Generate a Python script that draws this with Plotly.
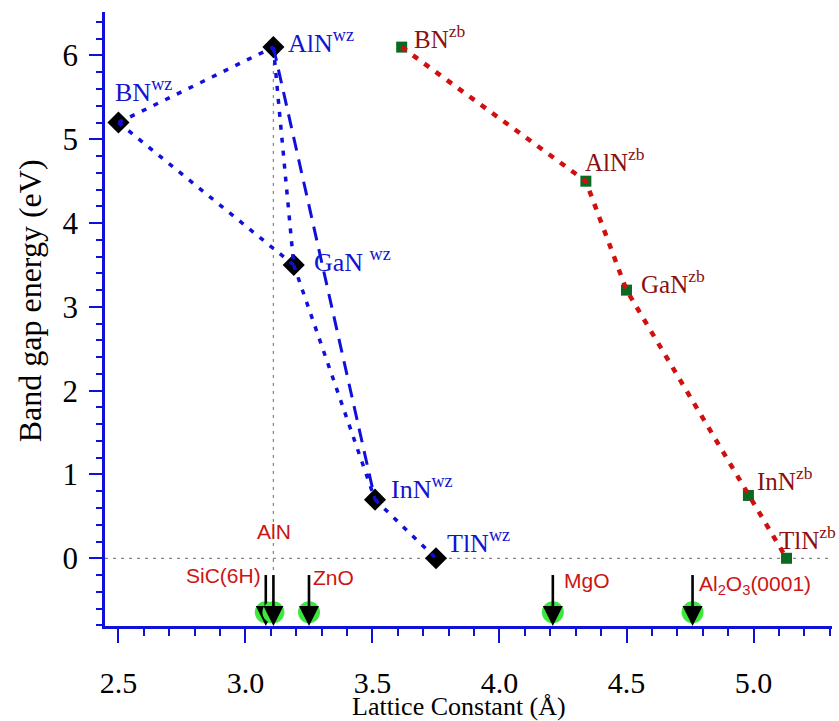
import plotly.graph_objects as go

# Wurtzite nitrides: lattice constant a (Å) and band gap (eV)
wz_names = ["BN", "AlN", "GaN", "InN", "TlN"]
wz_a = [2.50, 3.11, 3.19, 3.51, 3.75]
wz_gap = [5.2, 6.1, 3.5, 0.7, 0.0]

# Zinc-blende nitrides
zb_names = ["BN", "AlN", "GaN", "InN", "TlN"]
zb_a = [3.615, 4.34, 4.50, 4.98, 5.13]
zb_gap = [6.1, 4.5, 3.2, 0.75, 0.0]

# Common substrates and their in-plane lattice constants (Å)
sub_names = ["SiC(6H)", "AlN", "ZnO", "MgO", "Al<sub>2</sub>O<sub>3</sub>(0001)"]
sub_a = [3.08, 3.11, 3.25, 4.21, 4.76]

# Wurtzite tie lines between compounds (index pairs)
wz_dotted_pairs = [(0, 1), (0, 2), (1, 2), (2, 3), (3, 4)]
wz_dashed_pairs = [(1, 3)]

X_RANGE = [2.447, 5.309]
Y_RANGE = [-0.808, 6.519]

BLUE = "#1010dc"
WZ_TEXT = "#1414d0"
ZB_TEXT = "#8a1010"
SUB_TEXT = "#cc1414"
SERIF = "Liberation Serif"
SANS = "Liberation Sans"

# label offsets in pixels (xshift, yshift)
wz_label_shift = [(-5, 32), (13, 6), (18, 4), (14, 12), (9, 17)]
zb_label_shift = [(10, 10), (-3, 21), (12, 8), (7, 16), (-10, 20)]

SHAFT_TOP = -0.2
CIRCLE_Y = -0.645

fig = go.Figure()

# reference lines: Eg = 0 and the AlN lattice constant
fig.add_trace(go.Scatter(
    x=X_RANGE, y=[0, 0], mode="lines",
    line=dict(color="#8a8a8a", width=1.3, dash="3px,5px"),
    hoverinfo="skip", showlegend=False))
fig.add_trace(go.Scatter(
    x=[wz_a[1], wz_a[1]], y=[wz_gap[1], SHAFT_TOP], mode="lines",
    line=dict(color="#8a8a8a", width=1.3, dash="3px,5px"),
    hoverinfo="skip", showlegend=False))

# compound markers
fig.add_trace(go.Scatter(
    x=wz_a, y=wz_gap, mode="markers",
    marker=dict(symbol="diamond", size=17, color="black", line=dict(width=0)),
    showlegend=False))
fig.add_trace(go.Scatter(
    x=zb_a, y=zb_gap, mode="markers",
    marker=dict(symbol="square", size=11, color="#0b6a22", line=dict(width=0)),
    showlegend=False))


def pairs_xy(pairs, xs, ys):
    px, py = [], []
    for i, j in pairs:
        px += [xs[i], xs[j], None]
        py += [ys[i], ys[j], None]
    return px, py


dx, dy = pairs_xy(wz_dotted_pairs, wz_a, wz_gap)
fig.add_trace(go.Scatter(
    x=dx, y=dy, mode="lines",
    line=dict(color=BLUE, width=3.5, dash="5px,8px"),
    showlegend=False))
sx, sy = pairs_xy(wz_dashed_pairs, wz_a, wz_gap)
fig.add_trace(go.Scatter(
    x=sx, y=sy, mode="lines",
    line=dict(color=BLUE, width=3, dash="14px,9px"),
    showlegend=False))

# zinc-blende line
fig.add_trace(go.Scatter(
    x=zb_a, y=zb_gap, mode="lines",
    line=dict(color="#d01010", width=4.5, dash="6px,8px"),
    showlegend=False))

# substrate arrows with green discs
for a in sub_a:
    fig.add_trace(go.Scatter(
        x=[a], y=[CIRCLE_Y], mode="markers",
        marker=dict(symbol="circle", size=22, color="#3ce83c", line=dict(width=0)),
        showlegend=False, cliponaxis=False))
    fig.add_trace(go.Scatter(
        x=[a, a], y=[SHAFT_TOP, Y_RANGE[0] + 0.15], mode="lines",
        line=dict(color="black", width=2.6),
        showlegend=False, cliponaxis=False))
    fig.add_trace(go.Scatter(
        x=[a], y=[Y_RANGE[0]], mode="markers",
        marker=dict(symbol="arrow-down", size=20, color="black", line=dict(width=0)),
        showlegend=False, cliponaxis=False))

annotations = []
for name, a, g, (xs, ys) in zip(wz_names, wz_a, wz_gap, wz_label_shift):
    sep = " " if name == "GaN" else ""
    annotations.append(dict(
        x=a, y=g, xref="x", yref="y", text=f"{name}{sep}<sup>wz</sup>",
        showarrow=False, xanchor="left", yanchor="middle",
        xshift=xs, yshift=ys, font=dict(family=SERIF, size=26, color=WZ_TEXT)))
for name, a, g, (xs, ys) in zip(zb_names, zb_a, zb_gap, zb_label_shift):
    annotations.append(dict(
        x=a, y=g, xref="x", yref="y", text=f"{name}<sup>zb</sup>",
        showarrow=False, xanchor="left", yanchor="middle",
        xshift=xs, yshift=ys, font=dict(family=SERIF, size=25, color=ZB_TEXT)))

# substrate labels: (xanchor, xshift, yshift)
sub_label_pos = [("right", -3, 0), ("center", 1, 44), ("left", 2, -2),
                 ("left", 9, -5), ("left", 4, -10)]
for name, a, (xa, xs, ys) in zip(sub_names, sub_a, sub_label_pos):
    annotations.append(dict(
        x=a, y=SHAFT_TOP, xref="x", yref="y", text=name,
        showarrow=False, xanchor=xa, yanchor="middle",
        xshift=xs, yshift=ys, font=dict(family=SANS, size=21, color=SUB_TEXT)))

# axis titles
annotations.append(dict(
    x=0.487, y=-0.1315, xref="paper", yref="paper", text="Lattice Constant (Å)",
    showarrow=False, xanchor="center", yanchor="middle",
    font=dict(family=SERIF, size=26, color="black")))
annotations.append(dict(
    x=-0.103, y=0.529, xref="paper", yref="paper", text="Band gap energy (eV)",
    showarrow=False, xanchor="center", yanchor="middle", textangle=-90,
    font=dict(family=SERIF, size=32, color="black")))

fig.update_layout(
    width=839, height=721,
    margin=dict(l=105, r=7, t=12, b=95),
    paper_bgcolor="white", plot_bgcolor="white",
    font=dict(family=SERIF, color="black"),
    showlegend=False,
    annotations=annotations,
)

fig.update_xaxes(
    range=X_RANGE, showgrid=False, zeroline=False,
    showline=True, linecolor=BLUE, linewidth=2.5,
    ticks="outside", ticklen=14, tickwidth=2, tickcolor=BLUE,
    tick0=2.5, dtick=0.5, tickformat=".1f",
    tickfont=dict(family=SERIF, size=30, color="black"),
    ticklabelstandoff=14,
    minor=dict(dtick=0.1, tick0=2.5, ticks="outside", ticklen=7,
               tickwidth=2, tickcolor=BLUE, showgrid=False),
)
fig.update_yaxes(
    range=Y_RANGE, showgrid=False, zeroline=False,
    showline=True, linecolor=BLUE, linewidth=2.5,
    ticks="outside", ticklen=13, tickwidth=2, tickcolor=BLUE,
    tick0=0, dtick=1,
    tickfont=dict(family=SERIF, size=31, color="black"),
    ticklabelstandoff=5,
    minor=dict(dtick=0.2, tick0=0, ticks="outside", ticklen=6,
               tickwidth=2, tickcolor=BLUE, showgrid=False),
)

fig.write_html("out.html")
